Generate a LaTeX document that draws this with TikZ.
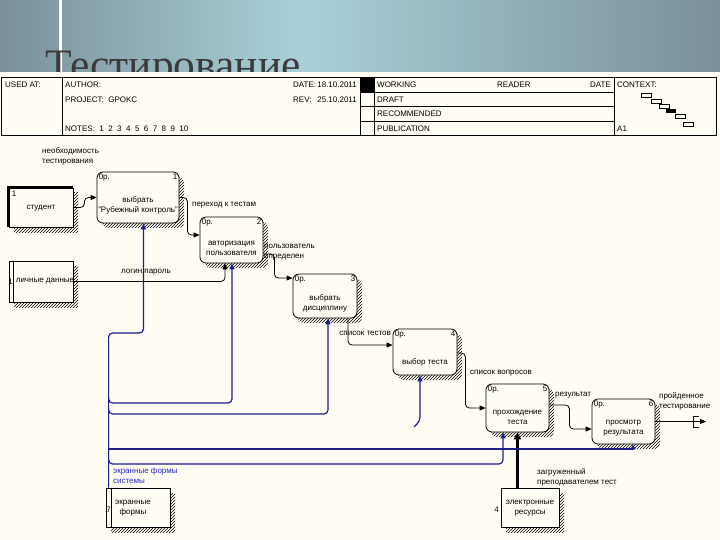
\documentclass[tikz,border=0pt]{standalone}
\usepackage{fontspec}
\setmainfont{Liberation Sans}
\newfontfamily\titlefont{Liberation Serif}
\usetikzlibrary{arrows.meta, patterns, positioning}

\definecolor{paper}{HTML}{FFFDF3}
\definecolor{skydark}{HTML}{7A909B}
\definecolor{skylight}{HTML}{A9D0D8}
\definecolor{mechblue}{HTML}{1E1E8C}
\definecolor{labelblue}{HTML}{2828C8}
\definecolor{titlegrey}{HTML}{3A3A3A}

\tikzset{
  small/.style={font=\fontsize{8}{10}\selectfont},
  hatch/.style={preaction={pattern=north east lines, transform canvas={shift={(5pt,-5pt)}}}},
  proc/.style={draw, line width=0.8pt, fill=paper, rounded corners=6pt, hatch, inner sep=0pt},
  ext/.style={draw, line width=0.8pt, fill=paper, hatch, inner sep=0pt},
  corner/.style={small, inner sep=2pt},
  ptext/.style={small, align=center, inner sep=0pt},
  hdr/.style={small, anchor=base west, inner sep=0pt},
  note/.style={small, align=left, inner sep=0pt, anchor=north west},
  flow/.style={draw, line width=0.8pt, rounded corners=4pt, -{Triangle[length=6pt,width=5pt]}},
  mech/.style={draw=mechblue, line width=1.2pt, rounded corners=4pt, -{Triangle[length=6pt,width=5pt]}},
}

\begin{document}
\begin{tikzpicture}[x=1pt, y=-1pt]
  \useasboundingbox (0,0) rectangle (720,540);

  % sky band and title
  \shade[left color=skydark, right color=skylight] (0,0) rectangle (300,72);
  \shade[left color=skylight, right color=skydark] (300,0) rectangle (720,72);
  \fill[white] (59,0) rectangle (61.5,72);
  \begin{scope}
    \clip (0,0) rectangle (720,72);
    \node[anchor=base west, inner sep=0pt, text=titlegrey, font=\titlefont\fontsize{43.5}{44}\selectfont] (title) at (45,80) {Тестирование};
  \end{scope}
  \fill[paper] (0,72) rectangle (720,540);

  % title block
  \draw[line width=0.8pt] (1,77) rectangle (716,135);
  \draw (62,77) -- (62,135) (360,77) -- (360,135) (374,77) -- (374,135) (614,77) -- (614,135);
  \fill (360,77) rectangle (374,92.7);
  \draw (360,92.7) -- (614,92.7) (360,106.7) -- (614,106.7) (360,121) -- (614,121);
  \node[hdr] (usedat) at (5,88) {USED AT:};
  \node[hdr] (author) at (65,88) {AUTHOR:};
  \node[hdr] (project) at (65,103) {PROJECT:\ \ GPOKC};
  \node[hdr] (notes) at (65,132) {NOTES:\ \ 1\ \ 2\ \ 3\ \ 4\ \ 5\ \ 6\ \ 7\ \ 8\ \ 9\ \ 10};
  \node[hdr] (date) at (293,88) {DATE:};
  \node[hdr, anchor=base east] (dateval) at (357,88) {18.10.2011};
  \node[hdr] (rev) at (293,103) {REV:};
  \node[hdr, anchor=base east] (revval) at (357,103) {25.10.2011};
  \node[hdr] (working) at (377,88) {WORKING};
  \node[hdr] (reader) at (497,88) {READER};
  \node[hdr] (date2) at (590,88) {DATE};
  \node[hdr] (draft) at (377,103) {DRAFT};
  \node[hdr] (recom) at (377,117) {RECOMMENDED};
  \node[hdr] (publ) at (377,132) {PUBLICATION};
  \node[hdr] (context) at (617,88) {CONTEXT:};
  \node[hdr] (node) at (617,132) {A1};
  \foreach \cx/\cy in {641/93, 651/99, 659/104, 675/114, 683/122}
    \draw[line width=0.5pt] (\cx,\cy) rectangle ++(10,4);
  \fill (666,109) rectangle ++(10,4);

  % activities
  \foreach \n/\cx/\cy/\w/\h in {1/138/197.5/82/51, 2/231.5/240/63/46, 3/325/296/64/44,
      4/425/352/64/46, 5/517.5/408/63/48, 6/623.5/421.5/63/45} {
    \node[proc, minimum width=\w pt, minimum height=\h pt] (b\n) at (\cx,\cy) {};
    \node[corner, anchor=north west] (c\n) at (b\n.north west) {0р.};
    \node[corner, anchor=north east] (n\n) at (b\n.north east) {\n};
  }
  \node[ptext] (t1) at ([yshift=-8pt]b1.center) {выбрать\\"Рубежный контроль"};
  \node[ptext] (t2) at ([yshift=-8pt]b2.center) {авторизация\\пользователя};
  \node[ptext] (t3) at ([yshift=-7.5pt]b3.center) {выбрать\\дисциплину};
  \node[ptext] (t4) at ([yshift=-10pt]b4.center) {выбор теста};
  \node[ptext] (t5) at ([yshift=-9pt]b5.center) {прохождение\\теста};
  \node[ptext] (t6) at ([yshift=-7pt]b6.center) {просмотр\\результата};

  % external entities
  \node[ext, minimum width=64pt, minimum height=39pt] (e1) at (41,207.5) {};
  \draw[line width=2.5pt] (e1.south west) -- (e1.north west) -- (e1.north east);
  \node[corner, anchor=north west] (en1) at ([xshift=1pt,yshift=-1pt]e1.north west) {1};
  \node[ptext] (et1) at ([yshift=-1pt]e1.center) {студент};

  \node[ext, minimum width=64pt, minimum height=41pt] (e2) at (41,281.5) {};
  \draw ([xshift=4.5pt]e2.north west) -- ([xshift=4.5pt]e2.south west);
  \node[ptext] (en2) at (10.5,282) {1};
  \node[ptext] (et2) at (45,281) {личные данные};

  \node[ext, minimum width=64pt, minimum height=39pt] (e3) at (138,507.5) {};
  \draw ([xshift=6pt]e3.north west) -- ([xshift=6pt]e3.south west);
  \node[ptext] (en3) at (108.5,510) {7};
  \node[ptext] (et3) at (133,508.5) {экранные\\формы};

  \node[ext, minimum width=58pt, minimum height=39pt] (e4) at (530,507.5) {};
  \node[ptext] (en4) at (496.5,510) {4};
  \node[ptext] (et4) at (530,508.5) {электронные\\ресурсы};

  % inputs, outputs and controls
  \draw[flow] (e1.east) -- ++(11,0) |- (b1.west);
  \draw[flow] (b1.east) -- ++(8,0) |- ([yshift=5pt]b2.west);
  \draw[flow] ([yshift=-14pt]b2.east) -- ++(11,0) |- ([yshift=18pt]b3.west);
  \draw[flow] ([xshift=23pt]b3.south) |- ([yshift=7pt]b4.west);
  \draw[flow] ([yshift=-1pt]b4.east) -- ++(8,0) |- (b5.west);
  \draw[flow] ([yshift=3pt]b5.east) -- ++(20,0) |- ([yshift=-7.5pt]b6.west);
  \coordinate (out) at (706,421.5);
  \draw[flow] (b6.east) -- (out);
  \draw (699,416) -- (693,416) -- (693,427) -- (699,427);
  \draw[flow] (e2.east) -| ([xshift=-6.5pt]b2.south);
  \draw[line width=2.6pt, -{Triangle[length=7pt,width=7pt]}] (e4.north -| b5.south) -- (b5.south);

  % mechanisms
  \coordinate (tr) at ([xshift=3pt]e3.north west);
  \draw[mech] (tr) -- (tr |- 0,333) -| ([xshift=5.5pt]b1.south);
  \draw[mech] (tr |- 0,396) -- (tr |- 0,403) -| ([xshift=0.5pt]b2.south);
  \draw[mech] (tr |- 0,408) -- (tr |- 0,414) -| ([xshift=3pt]b3.south);
  \draw[mech, sharp corners, -{Triangle[length=5pt,width=5pt]}] (tr |- 0,449) -| ([xshift=9.5pt]b6.south);
  \draw[mech] (tr |- 0,457) -- (tr |- 0,464) -| ([xshift=-14.5pt]b5.south);
  \coordinate (tn4) at (414,427);
  \draw[mech] (tn4) -- ++(6,-6) -- ([xshift=-5pt]b4.south);

  % arrow labels
  \node[note] (l1) at (42,147) {необходимость\\тестирования};
  \node[note, anchor=west] (l2) at (192,205) {переход к тестам};
  \node[note] (l3) at (264,244) {пользователь\\определен};
  \node[note, anchor=west] (l4) at (121,272) {логин,пароль};
  \node[note, anchor=east] (l5) at (391,333) {список тестов};
  \node[note, anchor=west] (l6) at (470,373) {список вопросов};
  \node[note, anchor=west] (l7) at (555,395) {результат};
  \node[note] (l8) at (659,392) {пройденное\\тестирование};
  \node[note, text=labelblue] (l9) at (113,467) {экранные формы\\системы};
  \node[note] (l10) at (537,468) {загруженный\\преподавателем тест};
\end{tikzpicture}
\end{document}
